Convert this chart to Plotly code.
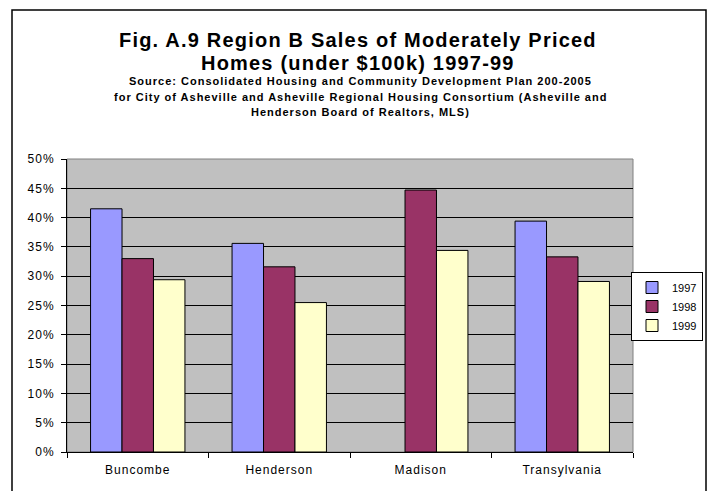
import plotly.graph_objects as go

categories = ["Buncombe", "Henderson", "Madison", "Transylvania"]
series_names = ["1997", "1998", "1999"]
values_1997 = [0.415, 0.356, None, 0.394]
values_1998 = [0.330, 0.316, 0.447, 0.333]
values_1999 = [0.294, 0.255, 0.344, 0.291]
y_ticks = [0, 0.05, 0.10, 0.15, 0.20, 0.25, 0.30, 0.35, 0.40, 0.45, 0.50]
y_tick_labels = ["0%", "5%", "10%", "15%", "20%", "25%", "30%", "35%", "40%", "45%", "50%"]

colors = ["#9999FF", "#993366", "#FFFFCC"]
FONT = "Arial, Liberation Sans, sans-serif"


def sp(s, ls=1.0):
    return '<span style="letter-spacing:%.1fpx">%s</span>' % (ls, s)


fig = go.Figure()
for name, vals, col in zip(series_names, [values_1997, values_1998, values_1999], colors):
    fig.add_trace(go.Bar(
        x=categories, y=vals, name=name,
        marker=dict(color=col, line=dict(color="black", width=1)),
    ))

# page body has an 8px default margin: screen = figure + 8
OFF = 8
W, H = 715, 491
PL, PR, PT, PB = 67, 633, 159, 452  # target plot area on screen
L, T = PL - OFF, PT - OFF
R = W - (PR - OFF)
B = H - (PB - OFF)
pw, ph = W - L - R, H - T - B


def px_x(x):
    return (x - OFF - L) / pw


def px_y(y):
    return (H - B - (y - OFF)) / ph


fig.update_layout(
    width=W, height=H,
    margin=dict(l=L, r=R, t=T, b=B, autoexpand=False),
    paper_bgcolor="white",
    plot_bgcolor="#C0C0C0",
    barmode="group",
    bargap=0.333,
    bargroupgap=0,
    font=dict(family=FONT, size=12, color="black"),
    showlegend=True,
    legend=dict(
        x=px_x(631), y=px_y(272), xanchor="left", yanchor="top",
        bordercolor="black", borderwidth=1, bgcolor="white",
        font=dict(size=11, family=FONT), itemwidth=30,
        tracegroupgap=0,
    ),
    xaxis=dict(
        tickvals=categories, ticktext=[sp(c, 1.0) for c in categories],
        showline=True, linecolor="black", linewidth=1,
        ticks="outside", ticklen=5, tickcolor="black",
        tickson="boundaries", showgrid=False,
        tickfont=dict(size=12, family=FONT),
        ticklabelstandoff=7,
    ),
    yaxis=dict(
        range=[0, 0.5], tickvals=y_ticks, ticktext=[sp(t, 1.0) for t in y_tick_labels],
        showline=True, linecolor="black", linewidth=1,
        ticks="outside", ticklen=5, tickcolor="black",
        showgrid=True, gridcolor="black", gridwidth=1,
        zeroline=False,
        tickfont=dict(size=12, family=FONT),
        ticklabelstandoff=4,
    ),
)

# plot area border (grey)
fig.add_shape(type="rect", xref="paper", yref="paper", x0=0, x1=1, y0=0, y1=1,
              line=dict(color="#808080", width=1), layer="below")

# outer chart border
fig.add_shape(type="rect", xref="paper", yref="paper",
              x0=px_x(12), x1=px_x(706), y0=px_y(510), y1=px_y(10),
              line=dict(color="black", width=1.5))

fig.add_annotation(text="<b>" + sp("Fig. A.9 Region B Sales of Moderately Priced", 1.2) + "</b>",
                   xref="paper", yref="paper", x=px_x(358), y=px_y(40),
                   showarrow=False, font=dict(size=20, family=FONT),
                   xanchor="center", yanchor="middle")
fig.add_annotation(text="<b>" + sp("Homes (under $100k) 1997-99", 1.2) + "</b>",
                   xref="paper", yref="paper", x=px_x(358), y=px_y(63.5),
                   showarrow=False, font=dict(size=20, family=FONT),
                   xanchor="center", yanchor="middle")
subs = [
    "Source: Consolidated Housing and Community Development Plan 200-2005",
    "for City of Asheville and Asheville Regional Housing Consortium (Asheville and",
    "Henderson Board of Realtors, MLS)",
]
for s, yy in zip(subs, [81, 96.5, 112]):
    fig.add_annotation(text="<b>" + sp(s, 1.0) + "</b>",
                       xref="paper", yref="paper", x=px_x(360), y=px_y(yy),
                       showarrow=False, font=dict(size=11, family=FONT),
                       xanchor="center", yanchor="middle")

fig.write_html("out.html")
